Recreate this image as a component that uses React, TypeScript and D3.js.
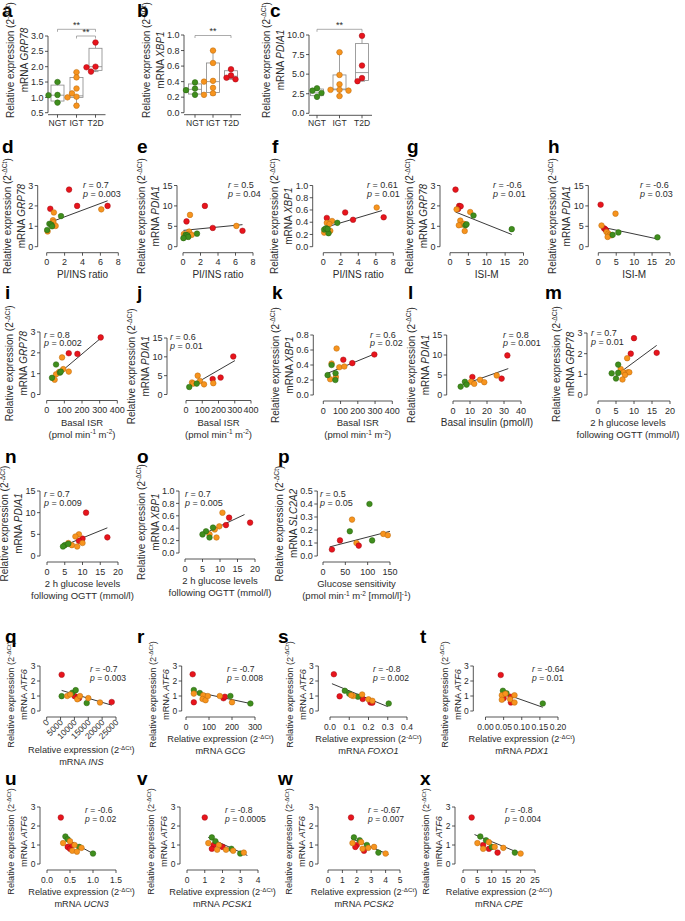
import React from 'react';
import * as d3 from 'd3';

type Pt = [number, number, number];
type Seg = { t: string; i?: boolean; sup?: boolean };

const FONT = '"Liberation Sans", Arial, Helvetica, sans-serif';
const FILL = ['#3f8e1d', '#f7941e', '#e8141c'];
const EDGE = ['#2a630f', '#b8680c', '#a00d12'];
const INK = '#2b2b2b';

// ---------- box plot data (a, b, c) ----------
const boxCats = ['NGT', 'IGT', 'T2D'];
const aPts = [[1.5, 1.08, 1.07, 0.83], [1.82, 1.65, 1.29, 1.13, 1.02, 1.0, 0.73], [2.79, 2.0, 1.98, 1.84]];
const aBox = [[0.83, 0.88, 1.07, 1.4, 1.5], [0.73, 1.0, 1.05, 1.65, 1.82], [1.84, 1.88, 2.0, 2.6, 2.79]];
const bPts = [[0.39, 0.31, 0.29, 0.23], [0.8, 0.64, 0.41, 0.4, 0.32, 0.25, 0.23], [0.56, 0.48, 0.45, 0.43]];
const bBox = [[0.23, 0.24, 0.3, 0.37, 0.39], [0.23, 0.26, 0.4, 0.64, 0.8], [0.43, 0.44, 0.47, 0.54, 0.56]];
const cPts = [[3.2, 2.9, 2.6, 2.1], [7.8, 4.9, 3.7, 3.0, 3.0, 2.9, 2.2], [9.9, 6.1, 4.5, 4.1]];
const cBox = [[2.1, 2.25, 2.6, 3.1, 3.2], [2.2, 3.0, 3.1, 4.9, 7.8], [4.1, 4.2, 5.2, 8.9, 9.9]];

// ---------- scatter data: [x, y, group] group 0 NGT, 1 IGT, 2 T2D ----------
const dPts: Pt[] = [[2.5,2.8,2],[0.4,1.86,2],[3.4,2.0,2],[6.8,2.0,2],[6.1,1.83,1],[0.8,1.68,1],[0.7,1.3,1],[0.75,1.2,1],[1.0,1.02,1],[0.6,1.05,1],[0.1,0.75,1],[1.6,1.5,0],[0.3,1.12,0],[0.5,1.08,0],[0.6,1.0,0],[0.05,0.82,0]];
const dFit = [0.1, 1.15, 6.8, 2.25];
const ePts: Pt[] = [[2.5,10,2],[0.4,6.2,2],[3.4,4.6,2],[6.8,3.9,2],[6.1,5.1,1],[0.8,7.8,1],[0.7,3.7,1],[0.6,3.0,1],[1.0,2.9,1],[0.1,3.1,1],[0.3,2.5,1],[1.6,3.2,0],[0.3,2.9,0],[0.5,2.8,0],[0.6,2.4,0],[0.05,2.1,0]];
const eFit = [0.05, 4.0, 6.8, 5.4];
const fPts: Pt[] = [[2.5,0.56,2],[0.4,0.47,2],[3.4,0.44,2],[6.9,0.48,2],[6.1,0.64,1],[0.4,0.39,1],[1.0,0.42,1],[0.7,0.37,1],[0.8,0.26,1],[0.1,0.23,1],[1.6,0.39,0],[0.1,0.28,0],[0.3,0.3,0],[0.6,0.22,0],[0.5,0.29,0]];
const fFit = [0.1, 0.31, 6.7, 0.59];
const gPts: Pt[] = [[1.5,2.8,2],[2.5,2.0,2],[2.9,1.98,2],[2.2,1.85,2],[1.8,1.83,1],[5.5,1.7,1],[2.8,1.28,1],[3.2,1.08,1],[3.8,1.12,1],[4.0,0.77,1],[2.4,1.05,1],[6.4,1.53,0],[4.2,1.05,0],[4.5,1.1,0],[16.8,0.86,0]];
const gFit = [1.5, 1.7, 16.8, 0.6];
const hPts: Pt[] = [[0.65,10.3,2],[1.6,4.5,2],[1.9,4.3,2],[2.2,4.0,2],[4.8,8.1,1],[0.9,5.2,1],[2.3,3.6,1],[2.8,3.2,1],[3.2,2.9,1],[3.6,2.8,1],[2.6,2.4,1],[4.0,2.9,0],[5.6,3.5,0],[16.5,2.3,0]];
const hFit = [1.6, 4.7, 16.5, 1.9];
const iPts: Pt[] = [[306,2.74,2],[125,1.98,2],[174,1.95,2],[87,1.78,1],[94,1.22,1],[70,1.08,1],[125,1.1,1],[53,0.97,1],[45,0.71,1],[53,1.44,0],[75,1.05,0],[80,1.1,0],[30,0.8,0]];
const iFit = [30, 0.73, 306, 2.7];
const jPts: Pt[] = [[291,10.1,2],[213,4.5,2],[164,4.1,2],[72,5.0,1],[86,3.6,1],[37,3.2,1],[45,2.9,1],[168,3.0,1],[111,2.7,1],[20,2.0,0],[66,2.9,0]];
const jFit = [25, 2.1, 301, 9.0];
const kPts: Pt[] = [[296,0.54,2],[168,0.425,2],[116,0.47,2],[77,0.62,1],[48,0.42,1],[93,0.37,1],[122,0.38,1],[73,0.24,1],[40,0.21,1],[48,0.4,0],[25,0.265,0],[71,0.29,0],[70,0.2,0]];
const kFit = [25, 0.29, 300, 0.55];
const lPts: Pt[] = [[32,9.9,2],[11.4,4.5,2],[28.6,4.1,2],[15.9,3.8,1],[18.4,3.2,1],[25.7,4.9,1],[10.6,3.3,1],[12.5,2.8,1],[7,3.3,0],[4.5,2.1,0],[8,2.6,0]];
const lFit = [6, 2.6, 32.5, 6.6];
const mPts: Pt[] = [[10,2.75,2],[9.1,2.0,2],[16.3,2.04,2],[8.1,1.78,1],[6.3,1.26,1],[7.1,1.1,1],[8.3,1.1,1],[8.7,1.1,1],[7.5,0.97,1],[6.8,0.75,1],[5.6,1.47,0],[5.6,1.07,0],[3.8,1.05,0],[5,0.8,0]];
const mFit = [5, 0.95, 16.3, 2.4];
const nPts: Pt[] = [[11,10,2],[17,4.3,2],[10,4,2],[9,3.5,2],[9,5,1],[8,4.5,1],[10,3,1],[7,2.5,1],[6,3,1],[8.5,2.2,1],[5,2.5,0],[6,2.8,0],[4.5,2.2,0]];
const nFit = [5, 2.5, 17, 6.5];
const oPts: Pt[] = [[12.6,0.57,2],[11.7,0.45,2],[18.6,0.49,2],[10.7,0.65,1],[9.8,0.43,1],[8.5,0.38,1],[7,0.3,1],[9,0.25,1],[8,0.41,0],[6,0.35,0],[5,0.3,0],[7,0.25,0]];
const oFit = [5, 0.3, 17, 0.62];
const pPts: Pt[] = [[104,0.4,0],[60,0.19,0],[110,0.12,0],[65,0.28,1],[75,0.1,1],[135,0.17,1],[145,0.16,1],[20,0.05,2],[38,0.12,2],[80,0.08,2]];
const pFit = [15, 0.07, 150, 0.19];
const qPts: Pt[] = [[5400,2.42,2],[10100,0.99,2],[11650,0.85,2],[11200,0.9,2],[23450,0.6,2],[5400,0.99,0],[9240,1.22,0],[10460,1.39,0],[14430,0.53,0],[7400,1.0,1],[8500,1.1,1],[11040,0.78,1],[12010,1.0,1],[15010,0.86,1],[19230,0.57,1]];
const qFit = [5400, 1.37, 23450, 0.39];
const rPts: Pt[] = [[29,2.45,2],[34,0.58,2],[163,0.85,2],[169,0.95,2],[34,1.4,0],[60,1.2,0],[193,1.0,0],[280,0.5,0],[34,1.16,1],[75,1.05,1],[72,0.8,1],[85,0.72,1],[95,1.0,1],[147,1.0,1],[200,0.58,1]];
const rFit = [34, 1.3, 280, 0.5];
const sPts: Pt[] = [[0.02,2.45,2],[0.05,0.98,2],[0.17,0.8,2],[0.21,0.57,2],[0.22,0.55,2],[0.077,1.35,0],[0.1,1.15,0],[0.145,0.95,0],[0.305,0.5,0],[0.12,1.0,1],[0.11,1.05,1],[0.167,1.1,1],[0.2,0.78,1],[0.22,0.68,1]];
const sFit = [0.01, 1.82, 0.3, 0.29];
const tPts: Pt[] = [[0.042,2.4,2],[0.069,0.95,2],[0.05,0.85,2],[0.07,0.57,2],[0.048,1.35,0],[0.058,1.18,0],[0.158,0.5,0],[0.045,1.05,1],[0.055,1.15,1],[0.08,1.05,1],[0.045,0.75,1],[0.068,0.78,1],[0.08,0.57,1]];
const tFit = [0.07, 1.0, 0.158, 0.25];
const uPts: Pt[] = [[0.3,2.45,2],[0.45,0.9,2],[0.5,0.8,2],[0.55,1.0,2],[0.4,1.45,0],[0.45,1.3,0],[0.7,0.9,0],[1.0,0.55,0],[0.35,1.1,1],[0.5,1.2,1],[0.6,1.0,1],[0.55,0.7,1],[0.75,0.85,1],[0.65,0.65,1]];
const uFit = [0.35, 1.4, 1.0, 0.55];
const vPts: Pt[] = [[1.0,2.45,2],[1.5,1.0,2],[1.4,0.8,2],[2.0,0.9,2],[1.4,1.4,0],[1.6,1.2,0],[2.5,0.8,0],[3.0,0.55,0],[1.2,1.1,1],[1.8,1.0,1],[2.2,0.75,1],[2.6,0.7,1],[3.2,0.6,1],[1.7,0.75,1]];
const vFit = [1.2, 1.4, 3.4, 0.45];
const wPts: Pt[] = [[1.6,2.45,2],[2.0,1.0,2],[2.5,0.7,2],[1.9,0.9,2],[1.8,1.4,0],[2.2,1.25,0],[2.7,1.0,0],[3.5,0.6,0],[1.7,1.1,1],[2.3,1.15,1],[2.8,0.85,1],[3.2,0.9,1],[4.0,0.55,1],[2.4,0.8,1]];
const wFit = [1.6, 1.35, 4.2, 0.5];
const xPts: Pt[] = [[3,2.45,2],[7,1.0,2],[9,0.8,2],[12,0.6,2],[6,1.45,0],[8,1.25,0],[10,0.9,0],[18,0.6,0],[5,1.1,1],[9,1.15,1],[11,0.9,1],[14,0.85,1],[20,0.55,1],[7,0.8,1]];
const xFit = [4, 1.55, 20, 0.55];

// ---------- ticks ----------
const t0to3 = [0, 1, 2, 3];
const t0to15 = [0, 5, 10, 15];
const t0to1 = [0, 0.2, 0.4, 0.6, 0.8, 1.0];
const t0to8 = [0, 2, 4, 6, 8];
const t0to20 = [0, 5, 10, 15, 20];
const t0to400 = [0, 100, 200, 300, 400];

const f0 = d3.format('d');
const f1 = d3.format('.1f');
const f2 = d3.format('.2f');

const REL: Seg[] = [{ t: 'Relative expression (2' }, { t: '-ΔCt', sup: true }, { t: ')' }];
const mrna = (g: string): Seg[] => [{ t: 'mRNA ' }, { t: g, i: true }];
const stat = (k: string, v: string): Seg[] => [{ t: k, i: true }, { t: ' = ' + v }];
const ISR: Seg[][] = [[{ t: 'Basal ISR' }], [{ t: '(pmol min' }, { t: '-1', sup: true }, { t: ' m' }, { t: '-2', sup: true }, { t: ')' }]];
const OGTT: Seg[][] = [[{ t: '2 h glucose levels' }], [{ t: 'following OGTT (mmol/l)' }]];
const PI: Seg[][] = [[{ t: 'PI/INS ratio' }]];
const ISI: Seg[][] = [[{ t: 'ISI-M' }]];
const relX = (g: string): Seg[][] => [REL, mrna(g)];

function Rich({ segs, ...rest }: any) {
  const out: any[] = [];
  let up = false;
  (segs as Seg[]).forEach((s, k) => {
    let dy = 0;
    if (s.sup && !up) dy = -3.5;
    if (!s.sup && up) dy = 3.5;
    up = !!s.sup;
    out.push(
      <tspan key={k} dy={dy ? dy : undefined} fontStyle={s.i ? 'italic' : undefined} fontSize={s.sup ? '0.68em' : undefined}>
        {s.t}
      </tspan>
    );
  });
  return <text {...rest}>{out}</text>;
}

const tw = (s: string, fs: number) => [...s].reduce((a, c) => a + (c === '.' ? 2.5 : c === '-' ? 3 : 5), 0) * fs / 9;

interface SP {
  letter: string; lp: [number, number];
  ax: number; xr: [number, number]; yr: [number, number];
  xd: [number, number]; yd: [number, number];
  xt: number[]; yt: number[]; xf: (v: number) => string; yf: (v: number) => string;
  gene: string; xlab: Seg[][]; st: [string, string]; sp: [number, number];
  pts: Pt[]; fit: number[]; rot?: boolean; lc?: number; sm?: boolean;
}

const R2 = [246.7, 185.5] as [number, number];
const R5 = [711, 666] as [number, number];
const R6 = [864, 807] as [number, number];
const L5 = 643;
const S5 = 672;
const L6 = 785;
const S6 = 813;

const panels: SP[] = [
  { letter: 'd', lp: [2, 153], ax: 37.7, xr: [46.7, 118.3], yr: R2, xd: [0, 8], yd: [0, 3], xt: t0to8, yt: t0to3, xf: f0, yf: f0, gene: 'GRP78', xlab: PI, st: ['0.7', '0.003'], sp: [83, 188], pts: dPts, fit: dFit },
  { letter: 'e', lp: [137, 153], ax: 177, xr: [183, 253], yr: R2, xd: [0, 8], yd: [0, 15], xt: t0to8, yt: t0to15, xf: f0, yf: f0, gene: 'PDIA1', xlab: PI, st: ['0.5', '0.04'], sp: [228, 188], pts: ePts, fit: eFit },
  { letter: 'f', lp: [272, 153], ax: 312.7, xr: [323.3, 393.3], yr: R2, xd: [0, 8], yd: [0, 1], xt: t0to8, yt: t0to1, xf: f0, yf: f1, gene: 'XBP1', xlab: PI, st: ['0.61', '0.01'], sp: [367, 188], pts: fPts, fit: fFit },
  { letter: 'g', lp: [407, 153], ax: 440, xr: [450, 523.5], yr: R2, xd: [0, 20], yd: [0, 3], xt: t0to20, yt: t0to3, xf: f0, yf: f0, gene: 'GRP78', xlab: ISI, st: ['-0.6', '0.01'], sp: [493, 188], pts: gPts, fit: gFit },
  { letter: 'h', lp: [548, 153], ax: 588.3, xr: [598.3, 670], yr: R2, xd: [0, 20], yd: [0, 15], xt: t0to20, yt: t0to15, xf: f0, yf: f0, gene: 'PDIA1', xlab: ISI, st: ['-0.6', '0.03'], sp: [640, 188], pts: hPts, fit: hFit },

  { letter: 'i', lp: [5, 299], ax: 40, xr: [46.7, 117.3], yr: [394.5, 332], xd: [0, 400], yd: [0, 3], xt: t0to400, yt: t0to3, xf: f0, yf: f0, gene: 'GRP78', xlab: ISR, st: ['0.8', '0.002'], sp: [44, 337.5], pts: iPts, fit: iFit },
  { letter: 'j', lp: [137, 299], ax: 167, xr: [186, 251], yr: [394.5, 338], xd: [0, 400], yd: [0, 15], xt: t0to400, yt: t0to15, xf: f0, yf: f0, gene: 'PDIA1', xlab: ISR, st: ['0.6', '0.01'], sp: [170, 340], pts: jPts, fit: jFit },
  { letter: 'k', lp: [272, 299], ax: 313.3, xr: [323.3, 392.3], yr: [395, 335], xd: [0, 400], yd: [0, 0.8], xt: t0to400, yt: [0, 0.2, 0.4, 0.6, 0.8], xf: f0, yf: f1, gene: 'XBP1', xlab: ISR, st: ['0.6', '0.02'], sp: [370, 337.5], pts: kPts, fit: kFit },
  { letter: 'l', lp: [408, 299], ax: 446.7, xr: [453, 521], yr: [395, 335], xd: [0, 40], yd: [0, 15], xt: [0, 10, 20, 30, 40], yt: t0to15, xf: f0, yf: f0, gene: 'PDIA1', xlab: [[{ t: 'Basal insulin (pmol/l)' }]], st: ['0.8', '0.001'], sp: [503, 337.5], pts: lPts, fit: lFit },
  { letter: 'm', lp: [545, 299], ax: 587, xr: [598, 670], yr: [395, 333], xd: [0, 20], yd: [0, 3], xt: t0to20, yt: t0to3, xf: f0, yf: f0, gene: 'GRP78', xlab: OGTT, st: ['0.7', '0.01'], sp: [591, 336], pts: mPts, fit: mFit, lc: 628 },

  { letter: 'n', lp: [5, 463], ax: 40, xr: [47, 118], yr: [556, 491], xd: [0, 20], yd: [0, 15], xt: t0to20, yt: t0to15, xf: f0, yf: f0, gene: 'PDIA1', xlab: OGTT, st: ['0.7', '0.009'], sp: [44, 497], pts: nPts, fit: nFit },
  { letter: 'o', lp: [137, 463], ax: 179, xr: [185, 255], yr: [553, 491], xd: [0, 20], yd: [0, 1], xt: t0to20, yt: t0to1, xf: f0, yf: f1, gene: 'XBP1', xlab: OGTT, st: ['0.7', '0.005'], sp: [185, 497], pts: oPts, fit: oFit },
  { letter: 'p', lp: [278, 463], ax: 317.3, xr: [323, 390], yr: [556, 491], xd: [0, 150], yd: [0, 0.5], xt: [0, 50, 100, 150], yt: [0, 0.1, 0.2, 0.3, 0.4, 0.5], xf: f0, yf: f1, gene: 'SLC2A2', xlab: [[{ t: 'Glucose sensitivity' }], [{ t: '(pmol min' }, { t: '-1', sup: true }, { t: ' m' }, { t: '-2', sup: true }, { t: ' [mmol/l]' }, { t: '-1', sup: true }, { t: ')' }]], st: ['0.5', '0.05'], sp: [320, 497], pts: pPts, fit: pFit },

  { letter: 'q', lp: [5, L5], ax: 40, xr: [46.7, 116], yr: R5, xd: [0, 25000], yd: [0, 3], xt: [0, 5000, 10000, 15000, 20000, 25000], yt: t0to3, xf: f0, yf: f0, gene: 'ATF6', xlab: relX('INS'), st: ['-0.7', '0.003'], sp: [90, S5], pts: qPts, fit: qFit, rot: true, sm: true },
  { letter: 'r', lp: [137, L5], ax: 181.7, xr: [186, 255], yr: R5, xd: [0, 300], yd: [0, 3], xt: [0, 100, 200, 300], yt: t0to3, xf: f0, yf: f0, gene: 'ATF6', xlab: relX('GCG'), st: ['-0.7', '0.008'], sp: [227, S5], pts: rPts, fit: rFit, sm: true },
  { letter: 's', lp: [278, L5], ax: 318.3, xr: [330, 407], yr: R5, xd: [0, 0.4], yd: [0, 3], xt: [0, 0.1, 0.2, 0.3, 0.4], yt: t0to3, xf: f1, yf: f0, gene: 'ATF6', xlab: relX('FOXO1'), st: ['-0.8', '0.002'], sp: [373, S5], pts: sPts, fit: sFit, sm: true },
  { letter: 't', lp: [420, L5], ax: 473.3, xr: [485.5, 558], yr: R5, xd: [0, 0.2], yd: [0, 3], xt: [0, 0.05, 0.1, 0.15, 0.2], yt: t0to3, xf: f2, yf: f0, gene: 'ATF6', xlab: relX('PDX1'), st: ['-0.64', '0.01'], sp: [532, S5], pts: tPts, fit: tFit, sm: true },

  { letter: 'u', lp: [5, L6], ax: 40, xr: [47, 116], yr: R6, xd: [0, 1.5], yd: [0, 3], xt: [0, 0.5, 1.0, 1.5], yt: t0to3, xf: f1, yf: f0, gene: 'ATF6', xlab: relX('UCN3'), st: ['-0.6', '0.02'], sp: [85, S6], pts: uPts, fit: uFit, sm: true },
  { letter: 'v', lp: [137, L6], ax: 180, xr: [187, 258], yr: R6, xd: [0, 4], yd: [0, 3], xt: [0, 1, 2, 3, 4], yt: t0to3, xf: f0, yf: f0, gene: 'ATF6', xlab: relX('PCSK1'), st: ['-0.8', '0.0005'], sp: [225, S6], pts: vPts, fit: vFit, sm: true },
  { letter: 'w', lp: [278, L6], ax: 318, xr: [328, 400], yr: R6, xd: [0, 5], yd: [0, 3], xt: [0, 1, 2, 3, 4, 5], yt: t0to3, xf: f0, yf: f0, gene: 'ATF6', xlab: relX('PCSK2'), st: ['-0.67', '0.007'], sp: [368, S6], pts: wPts, fit: wFit, sm: true },
  { letter: 'x', lp: [420, L6], ax: 455, xr: [463, 535], yr: R6, xd: [0, 25], yd: [0, 3], xt: [0, 5, 10, 15, 20, 25], yt: t0to3, xf: f0, yf: f0, gene: 'ATF6', xlab: relX('CPE'), st: ['-0.8', '0.004'], sp: [505, S6], pts: xPts, fit: xFit, sm: true },
];

interface BP {
  letter: string; lp: [number, number]; ax: number; cr: [number, number]; yr: [number, number];
  yd: [number, number]; yt: number[]; gene: string; pts: number[][]; box: number[][];
  br: { a: number; b: number; y: number }[];
}
const boxPanels: BP[] = [
  { letter: 'a', lp: [2, 17], ax: 48, cr: [57.5, 95.5], yr: [112.7, 36], yd: [0.5, 3], yt: [0.5, 1, 1.5, 2, 2.5, 3], gene: 'GRP78', pts: aPts, box: aBox, br: [{ a: 0, b: 2, y: 29.3 }, { a: 1, b: 2, y: 36 }] },
  { letter: 'b', lp: [137, 17], ax: 184, cr: [195, 231], yr: [112.7, 35], yd: [0, 1], yt: t0to1, gene: 'XBP1', pts: bPts, box: bBox, br: [{ a: 0, b: 2, y: 35.5 }] },
  { letter: 'c', lp: [270, 17], ax: 309, cr: [317, 362], yr: [113.3, 35], yd: [0, 10], yt: [0, 2.5, 5, 7.5, 10], gene: 'PDIA1', pts: cPts, box: cBox, br: [{ a: 0, b: 2, y: 29.3 }] },
];

function YAxis({ ax, y, ticks, f, gene, center, tf = 9, lf = 10 }: any) {
  const w = Math.max(...ticks.map((t: number) => tw(f(t), tf)));
  const mx = ax - 6 - w - 2;
  return (
    <g>
      <line x1={ax} x2={ax} y1={y(ticks[0])} y2={y(ticks[ticks.length - 1])} stroke={INK} strokeWidth={0.8} />
      {ticks.map((t: number, k: number) => (
        <g key={k}>
          <line x1={ax - 3} x2={ax} y1={y(t)} y2={y(t)} stroke={INK} strokeWidth={0.8} />
          <text x={ax - 4.5} y={y(t) + tf * 0.35} textAnchor="end" fontSize={tf} fill={INK}>{f(t)}</text>
        </g>
      ))}
      <Rich segs={mrna(gene)} transform={`translate(${mx},${center}) rotate(-90)`} textAnchor="middle" fontSize={lf} fill={INK} />
      <Rich segs={REL} transform={`translate(${mx - lf * 1.4},${center}) rotate(-90)`} textAnchor="middle" fontSize={lf} fill={INK} />
    </g>
  );
}

function Scatter({ p }: { p: SP }) {
  const x = d3.scaleLinear().domain(p.xd).range(p.xr);
  const y = d3.scaleLinear().domain(p.yd).range(p.yr);
  const tf = p.sm ? 8.5 : 9;
  const lf = p.sm ? 9.2 : 10;
  const axY = p.yr[0] + 6;
  const cx = p.lc ?? (p.xr[0] + p.xr[1]) / 2;
  const labY = p.rot ? axY + 36 : axY + 25;
  const two = p.xlab.length > 1 && !p.sm;
  const ycenter = (p.yr[0] + p.yr[1]) / 2 + (p.sm ? 6 : 0);
  return (
    <g>
      <text x={p.lp[0]} y={p.lp[1]} fontSize={19} fontWeight="bold" fill="#000">{p.letter}</text>
      <YAxis ax={p.ax} y={y} ticks={p.yt} f={p.yf} gene={p.gene} center={ycenter} tf={tf} lf={lf} />
      <line x1={p.xr[0]} x2={p.xr[1]} y1={axY} y2={axY} stroke={INK} strokeWidth={0.8} />
      {p.xt.map((t, k) => (
        <g key={k}>
          <line x1={x(t)} x2={x(t)} y1={axY} y2={axY + 3} stroke={INK} strokeWidth={0.8} />
          {p.rot ? (
            <text transform={`translate(${x(t) + 3},${axY + 6}) rotate(-45)`} textAnchor="end" fontSize={tf} fill={INK}>{p.xf(t)}</text>
          ) : (
            <text x={x(t)} y={axY + 12.5} textAnchor="middle" fontSize={tf} fill={INK}>{p.xf(t)}</text>
          )}
        </g>
      ))}
      {p.xlab.map((segs, k) => (
        <Rich key={k} segs={segs} x={cx} y={labY + k * 12} textAnchor="middle" fontSize={two ? 9.5 : lf} fill={INK} />
      ))}
      <line x1={x(p.fit[0])} y1={y(p.fit[1])} x2={x(p.fit[2])} y2={y(p.fit[3])} stroke="#222" strokeWidth={0.9} />
      {p.pts.map((d, k) => (
        <circle key={k} cx={x(d[0])} cy={y(d[1])} r={2.8} fill={FILL[d[2]]} stroke={EDGE[d[2]]} strokeWidth={0.5} />
      ))}
      <Rich segs={stat('r', p.st[0])} x={p.sp[0]} y={p.sp[1]} fontSize={p.sm ? 8.6 : 9} fill={INK} />
      <Rich segs={stat('p', p.st[1])} x={p.sp[0]} y={p.sp[1] + 8.6} fontSize={p.sm ? 8.6 : 9} fill={INK} />
    </g>
  );
}

function BoxPanel({ p }: { p: BP }) {
  const x = d3.scalePoint().domain(boxCats).range(p.cr);
  const y = d3.scaleLinear().domain(p.yd).range(p.yr);
  const axY = p.yr[0] + 2;
  const bw = 13;
  return (
    <g>
      <text x={p.lp[0]} y={p.lp[1]} fontSize={19} fontWeight="bold" fill="#000">{p.letter}</text>
      <YAxis ax={p.ax} y={y} ticks={p.yt} f={f1} gene={p.gene} center={60} />
      <line x1={p.ax} x2={p.cr[1] + 10} y1={axY} y2={axY} stroke={INK} strokeWidth={0.8} />
      {boxCats.map((c, gi) => {
        const cx = x(c) as number;
        const [mn, q1, md, q3, mx] = p.box[gi];
        const placed: [number, number][] = [];
        return (
          <g key={c}>
            <line x1={cx} x2={cx} y1={axY} y2={axY + 3} stroke={INK} strokeWidth={0.8} />
            <text x={cx} y={axY + 11} textAnchor="middle" fontSize={8.5} fill={INK}>{c}</text>
            <line x1={cx} x2={cx} y1={y(mx)} y2={y(q3)} stroke="#888" strokeWidth={0.8} />
            <line x1={cx} x2={cx} y1={y(q1)} y2={y(mn)} stroke="#888" strokeWidth={0.8} />
            <line x1={cx - 3} x2={cx + 3} y1={y(mx)} y2={y(mx)} stroke="#888" strokeWidth={0.8} />
            <line x1={cx - 3} x2={cx + 3} y1={y(mn)} y2={y(mn)} stroke="#888" strokeWidth={0.8} />
            <rect x={cx - bw / 2} y={y(q3)} width={bw} height={y(q1) - y(q3)} fill="white" stroke="#888" strokeWidth={0.8} />
            <line x1={cx - bw / 2} x2={cx + bw / 2} y1={y(md)} y2={y(md)} stroke="#888" strokeWidth={0.8} />
            {p.pts[gi].map((v, k) => {
              const py = y(v);
              const offs = [0, -4.5, 4.5, -9, 9];
              let ox = 0;
              for (const o of offs) {
                if (!placed.some(([qx, qy]) => Math.hypot(qx - o, qy - py) < 5)) { ox = o; break; }
              }
              placed.push([ox, py]);
              return <circle key={k} cx={cx + ox} cy={py} r={2.8} fill={FILL[gi]} stroke={EDGE[gi]} strokeWidth={0.5} />;
            })}
          </g>
        );
      })}
      {p.br.map((b, k) => {
        const x1 = x(boxCats[b.a]) as number;
        const x2 = x(boxCats[b.b]) as number;
        return (
          <g key={k}>
            <path d={`M${x1},${b.y + 2.5}V${b.y}H${x2}V${b.y + 2.5}`} fill="none" stroke="#888" strokeWidth={0.7} />
            <text x={(x1 + x2) / 2} y={b.y - 1.5} textAnchor="middle" fontSize={9} fill={INK}>**</text>
          </g>
        );
      })}
    </g>
  );
}

export default function App() {
  return (
    <svg width={685} height={921} viewBox="0 0 685 921" style={{ position: 'absolute', left: 0, top: 0, background: '#fff' }} fontFamily={FONT}>
      <rect width={685} height={921} fill="#fff" />
      {boxPanels.map((p) => <BoxPanel key={p.letter} p={p} />)}
      {panels.map((p) => <Scatter key={p.letter} p={p} />)}
    </svg>
  );
}
